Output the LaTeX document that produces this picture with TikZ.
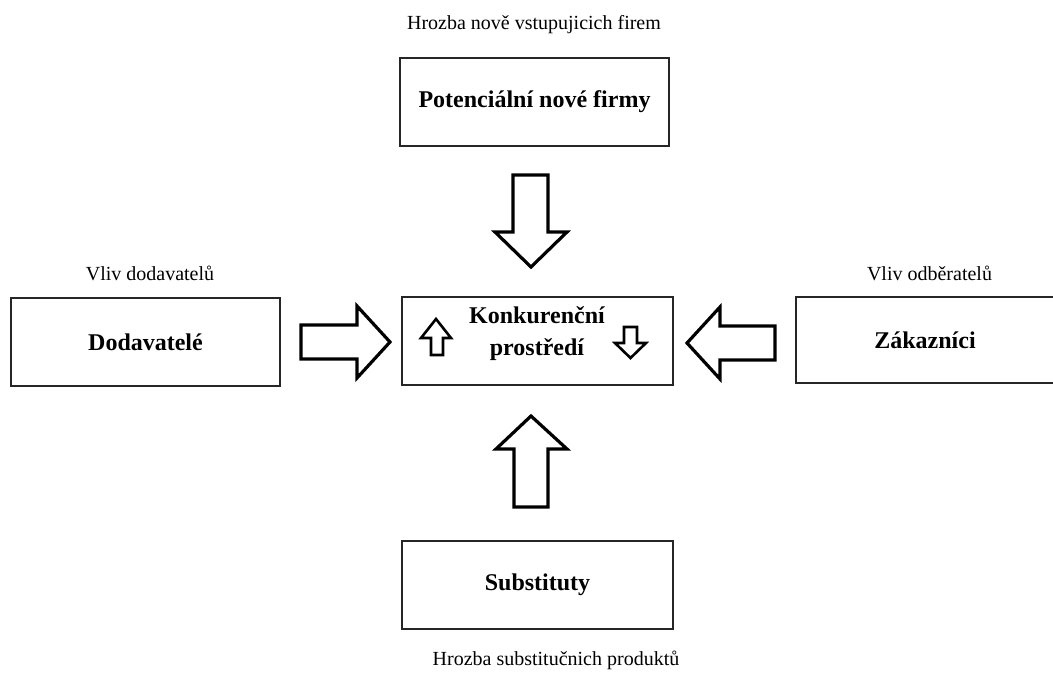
\documentclass[tikz,border=0pt]{standalone}
\usepackage{fontspec}
\setmainfont{Liberation Serif}
\begin{document}
\begin{tikzpicture}[x=1pt,y=-1pt,
  box/.style={draw=black!85,line width=1.8pt,fill=white,inner sep=0pt},
  lbl/.style={font=\fontsize{24}{32}\selectfont\bfseries,align=center,inner sep=0pt},
  captext/.style={font=\fontsize{20}{24}\selectfont,inner sep=0pt},
  blockarrow/.style={draw=black,line width=3.2pt,fill=white,line join=miter},
  smallarrow/.style={draw=black,line width=2.6pt,fill=white,line join=miter}]
\useasboundingbox (0,0) rectangle (1053,673);
% boxes
\draw[box] (400,58) rectangle (669,146);
\node[lbl] (top) at (534.5,102) {Potenciální nové firmy};
\draw[box] (11,298) rectangle (280,386);
\node[lbl] (left) at (145.5,342) {Dodavatelé};
\draw[box] (796,297) rectangle (1056,383);
\node[lbl] (right) at (925,340) {Zákazníci};
\draw[box] (402,297) rectangle (673,385);
\node[lbl] (center) at (537,334) {Konkurenční\\prostředí};
\draw[box] (402,541) rectangle (673,629);
\node[lbl] (bottom) at (537.5,585) {Substituty};
% captions
\node[captext] (ctop) at (534,25) {Hrozba nově vstupujicich firem};
\node[captext] (cleft) at (150,273) {Vliv dodavatelů};
\node[captext] (cright) at (929.5,273) {Vliv odběratelů};
\node[captext] (cbottom) at (556,660) {Hrozba substitučnich produktů};
% block arrows
\draw[blockarrow] (513,175) -- (548,175) -- (548,232) -- (567,232) -- (531,267) -- (495,232) -- (513,232) -- cycle;
\draw[blockarrow] (514,507) -- (548,507) -- (548,449) -- (567,449) -- (531,416) -- (496,449) -- (514,449) -- cycle;
\draw[blockarrow] (301,325) -- (357,325) -- (357,306) -- (390,342) -- (357,378) -- (357,359) -- (301,359) -- cycle;
\draw[blockarrow] (775,326) -- (720,326) -- (720,307) -- (687,343) -- (720,379) -- (720,360) -- (775,360) -- cycle;
% small arrows inside centre box
\draw[smallarrow] (431,355) -- (443,355) -- (443,338) -- (451,338) -- (436,319) -- (421,338) -- (431,338) -- cycle;
\draw[smallarrow] (624,327) -- (637,327) -- (637,343) -- (646,343) -- (630.5,358) -- (615,343) -- (624,343) -- cycle;
\end{tikzpicture}
\end{document}
